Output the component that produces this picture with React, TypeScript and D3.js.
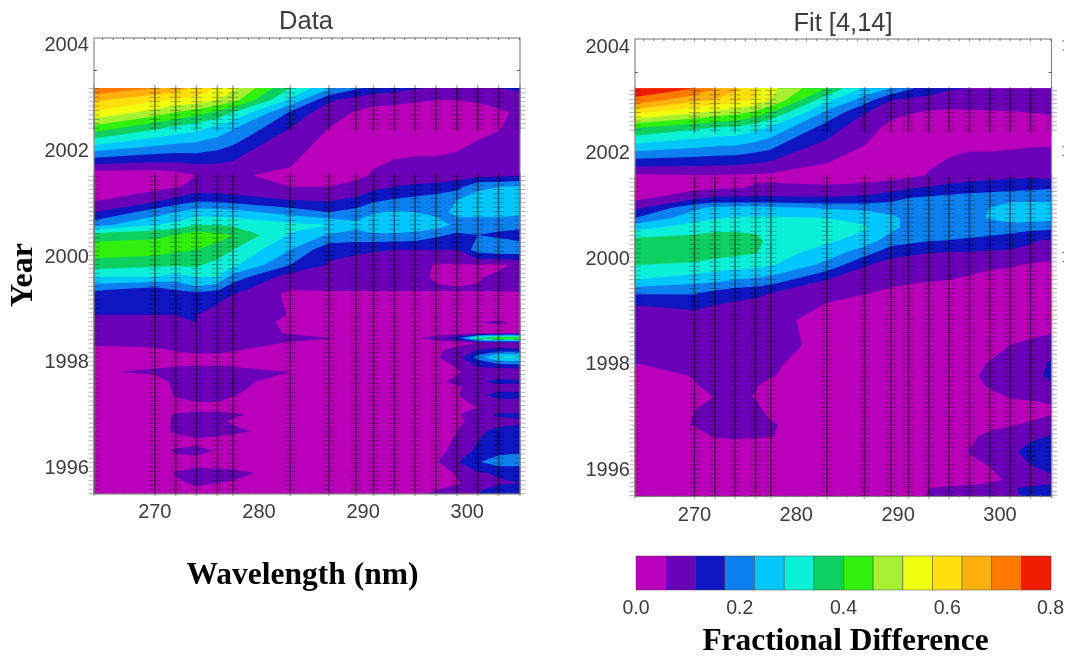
import * as d3 from "d3"

// wavelengths (nm) of the retrieved channels, same in both panels
const wavelengths = [264.16, 270, 272, 274, 276, 277.5, 283, 286.7, 289.3, 291, 293, 295, 297, 299, 301, 303, 305.06]

// colour bar: 14 levels between 0 and 0.8
const barColors = ["#bb00bb", "#6a00b8", "#0a14c0", "#0a80f0", "#05c8ff", "#10f0d8", "#0fd060", "#30f010", "#a8f030", "#f0ff10", "#ffe010", "#ffb010", "#ff7a00", "#f01a00"]
const barTicks = [0, 0.2, 0.4, 0.6, 0.8]
const yearTicks = [1996, 1998, 2000, 2002, 2004]
const nmTicks = [270, 280, 290, 300]
// what is left of the neighbouring panel's year labels at the edge of the picture
const croppedYears = [2000, 2002, 2004]

// grid values are in units of one colour level (0.8 / 14 fractional difference)
const dataYears = [2003.17, 2002.94, 2002.71, 2002.41, 2001.52, 2001.30, 2001.05, 2000.82, 2000.58, 2000.39, 2000.11, 1999.82, 1999.60, 1999.35, 1999.27, 1998.88, 1998.74, 1998.54, 1998.44, 1998.35, 1998.22, 1998.08, 1997.93, 1997.80, 1997.61, 1997.52, 1997.36, 1997.21, 1997.14, 1996.99, 1996.87, 1996.68, 1996.48, 1996.31, 1996.10, 1995.89, 1995.70, 1995.57, 1995.49]
const dataLevels = [
  [12.9, 12, 11.5, 10.8, 10, 9.3, 6, 4.2, 3.2, 2.8, 2.4, 2.1, 1.9, 1.8, 1.8, 2, 2.2],
  [11.2, 10.2, 9.9, 9.6, 9, 8.4, 4.8, 2.2, 1.5, 1.2, 1.2, 1.1, 1, 1, 1.1, 1.2, 1.5],
  [9.9, 8.6, 8, 7.5, 6.8, 6, 2.9, 1.3, 0.95, 0.8, 0.7, 0.6, 0.6, 0.6, 0.7, 0.9, 1.1],
  [7.6, 6.2, 5.7, 5.3, 4.7, 4.1, 2, 1, 0.5, 0.4, 0.4, 0.4, 0.4, 0.5, 0.8, 0.95, 1.3],
  [0.3, 0.4, 0.6, 1, 1.1, 1.1, 0.8, 0.7, 0.75, 1.1, 1.3, 1.4, 1.4, 1.5, 1.6, 1.7, 1.9],
  [0.4, 0.7, 0.9, 1.3, 1.4, 1.3, 1, 1, 1.3, 1.7, 2, 2.2, 2.3, 2.6, 3.9, 4, 4.1],
  [0.9, 1.7, 2.3, 2.8, 2.7, 2.5, 2, 1.9, 2.2, 2.8, 3.1, 3.3, 3.6, 4, 4.2, 4.3, 4.4],
  [2, 3.5, 4, 4.5, 4.5, 4.4, 3.6, 3, 3.4, 3.9, 4.1, 4, 3.7, 4.2, 4.3, 4.4, 4.2],
  [3.6, 5, 5.3, 6, 6, 5.8, 5.3, 5, 4.3, 4.8, 4.9, 4.6, 4.6, 3.7, 3.5, 3.4, 3.4],
  [6.5, 6.8, 7, 7.6, 7.2, 7, 4.9, 3.9, 3.7, 3.8, 3.8, 3.7, 3.2, 2.8, 3, 2.8, 2.5],
  [7.6, 7.5, 7.2, 7, 6.8, 6, 4, 2.3, 2.2, 2.1, 2, 2, 2, 2, 3.5, 3.8, 3.7],
  [6.5, 6.2, 6.1, 6.2, 5.5, 5.2, 3, 1.9, 1.6, 1.5, 1.5, 1.5, 0.9, 0.9, 0.9, 0.8, 1.2],
  [5, 5, 4.6, 5, 5, 3.6, 1.5, 1.2, 1.3, 1.3, 1.2, 1.2, 0.9, 0.7, 0.9, 1.2, 1.2],
  [3.1, 2.5, 3, 3.6, 3.1, 2.3, 1, 1.1, 1.1, 1.1, 1.1, 1.1, 1.1, 1.1, 1.1, 1.1, 1.2],
  [2.8, 2.3, 2.4, 2.5, 2.2, 2, 0.8, 0.7, 0.7, 0.7, 0.7, 0.7, 0.7, 0.7, 0.7, 0.7, 0.8],
  [2, 2, 2, 2, 1.8, 1.7, 0.95, 0.3, 0.3, 0.3, 0.3, 0.3, 0.3, 0.3, 0.4, 0.6, 0.5],
  [1.6, 1.8, 1.9, 2, 1.6, 1.3, 0.9, 0.3, 0.3, 0.3, 0.3, 0.3, 0.3, 0.3, 1, 1.1, 0.9],
  [1.4, 1.5, 1.6, 1.6, 1.5, 1.3, 0.95, 0.4, 0.3, 0.3, 0.3, 0.3, 0.3, 0.4, 0.6, 0.6, 0.6],
  [1.3, 1.6, 1.7, 1.9, 1.9, 1.6, 1.2, 1.05, 0.9, 0.8, 0.7, 0.8, 1.6, 2.5, 6.5, 7.8, 8],
  [1.2, 1.4, 1.4, 1.4, 1.4, 1.3, 0.95, 0.4, 0.3, 0.3, 0.3, 0.3, 0.4, 0.7, 1, 1.1, 1],
  [0.7, 0.8, 1.1, 1.2, 1.2, 1.1, 0.5, 0.3, 0.3, 0.3, 0.3, 0.3, 0.8, 1.3, 2, 2.3, 2.2],
  [0.2, 0.5, 0.7, 0.8, 0.8, 0.7, 0.3, 0.3, 0.3, 0.3, 0.3, 0.3, 0.9, 1.5, 3.4, 5.3, 5.2],
  [0.3, 0.8, 0.9, 0.95, 0.95, 0.9, 0.5, 0.3, 0.3, 0.3, 0.3, 0.3, 0.7, 1.1, 2.2, 2.5, 2.8],
  [0.85, 1.2, 1.3, 1.4, 1.4, 1.3, 1, 0.3, 0.3, 0.3, 0.3, 0.3, 0.4, 0.9, 1.4, 1.3, 1.2],
  [0.3, 0.5, 1.25, 1.4, 1.4, 1.3, 0.5, 0.3, 0.3, 0.3, 0.3, 0.3, 0.8, 1.2, 1.8, 2.3, 2.2],
  [0.3, 0.4, 1.2, 1.4, 1.4, 1.3, 0.3, 0.3, 0.3, 0.3, 0.3, 0.3, 0.5, 0.9, 1.3, 1.6, 1.4],
  [0.3, 0.3, 1.1, 1.3, 1.3, 1.05, 0.3, 0.3, 0.3, 0.3, 0.3, 0.3, 0.5, 0.9, 1.8, 2.3, 2.4],
  [0.3, 0.3, 0.7, 0.95, 0.95, 0.7, 0.3, 0.3, 0.3, 0.3, 0.3, 0.3, 0.4, 0.7, 1.2, 1.6, 1.5],
  [0.3, 0.3, 0.4, 0.5, 0.5, 0.4, 0.3, 0.3, 0.3, 0.3, 0.3, 0.3, 0.4, 0.6, 1, 1.3, 1.2],
  [0.3, 0.4, 1.15, 1.3, 1.3, 1.2, 0.3, 0.3, 0.3, 0.3, 0.3, 0.3, 0.4, 0.9, 1.5, 2.2, 2.3],
  [0.3, 0.4, 1.2, 1.5, 1.3, 0.8, 0.3, 0.3, 0.3, 0.3, 0.3, 0.3, 0.4, 0.7, 1.5, 1.6, 1.8],
  [0.3, 0.4, 1.2, 1.6, 1.4, 1.3, 0.3, 0.3, 0.3, 0.3, 0.3, 0.3, 0.4, 1, 1.8, 2.3, 2.4],
  [0.3, 0.3, 0.4, 0.7, 0.5, 0.4, 0.3, 0.3, 0.3, 0.3, 0.3, 0.3, 0.5, 1.2, 2, 2.4, 2.6],
  [0.3, 0.4, 1.2, 1.4, 0.9, 0.9, 0.3, 0.3, 0.3, 0.3, 0.3, 0.3, 0.6, 1.4, 2.2, 2.6, 2.8],
  [0.3, 0.3, 0.4, 0.5, 0.4, 0.4, 0.3, 0.3, 0.3, 0.3, 0.3, 0.3, 0.9, 1.9, 2.9, 3.6, 3.6],
  [0.3, 0.4, 1.1, 1.5, 1.4, 1.3, 0.5, 0.3, 0.3, 0.3, 0.3, 0.3, 0.5, 1.1, 1.9, 2.1, 2.1],
  [0.3, 0.3, 0.8, 1.2, 1, 0.9, 0.3, 0.3, 0.3, 0.3, 0.3, 0.3, 0.4, 0.9, 1.5, 1.9, 2],
  [0.3, 0.3, 0.5, 0.7, 0.6, 0.5, 0.3, 0.3, 0.3, 0.3, 0.3, 0.3, 1, 1.3, 1.9, 2.3, 2.4],
  [0.3, 0.3, 0.4, 0.5, 0.4, 0.4, 0.3, 0.3, 0.3, 0.3, 0.3, 0.9, 1.1, 1.5, 2, 2.4, 2.4],
]

const fitYears = [2003.2, 2002.98, 2002.75, 2002.45, 2001.56, 2001.32, 2001.09, 2000.94, 2000.75, 2000.56, 2000.33, 2000.11, 1999.86, 1999.58, 1999.33, 1999.1, 1998.82, 1998.35, 1998.01, 1997.76, 1997.57, 1997.36, 1997.12, 1996.84, 1996.61, 1996.51, 1996.33, 1996.04, 1995.8, 1995.64, 1995.47]
const fitLevels = [
  [13.9, 13, 12, 11.2, 10.2, 9.3, 7, 4.8, 4, 3.2, 2.5, 2.1, 2, 1.9, 1.8, 1.8, 1.9],
  [12.7, 11.3, 10.9, 10.5, 9.9, 9, 5.3, 3.5, 2, 1.8, 1.7, 1.5, 1.4, 1.3, 1.3, 1.4, 1.4],
  [10.4, 9.2, 8.8, 8.4, 7.8, 7, 3.8, 2.1, 1.2, 1.1, 0.9, 0.85, 0.9, 0.95, 0.98, 1, 1.1],
  [7, 6.2, 5.9, 5.8, 5.3, 4.8, 2.5, 1.3, 0.8, 0.5, 0.5, 0.5, 0.5, 0.4, 0.4, 0.5, 0.6],
  [0.9, 1, 1, 0.95, 0.9, 0.85, 0.5, 0.5, 0.6, 0.7, 1.05, 1.3, 1.5, 1.6, 1.7, 1.7, 1.6],
  [0.4, 0.7, 0.85, 0.95, 1.05, 1.1, 1.15, 1.3, 1.6, 1.9, 2.1, 2.3, 2.5, 2.6, 2.7, 2.8, 2.9],
  [0.9, 2.1, 2.4, 2.4, 2.4, 2.4, 2.3, 2.4, 2.8, 3.2, 3.4, 3.5, 3.6, 3.7, 3.8, 3.8, 3.8],
  [1.7, 3.8, 4.2, 4.3, 4.3, 4.2, 3.9, 3.7, 3.6, 3.6, 3.6, 3.6, 3.7, 4, 4.5, 4.6, 4.5],
  [3, 4.6, 4.9, 5.1, 5.1, 5.1, 5, 4.8, 4.2, 3.8, 3.6, 3.6, 3.7, 4.1, 4.5, 4.5, 4.3],
  [4.7, 5.5, 5.7, 5.7, 5.6, 5.5, 5.3, 5.1, 4.3, 3.7, 3.5, 3.4, 3.4, 3.4, 3.4, 3.3, 3.2],
  [6.3, 6.4, 6.6, 6.6, 6.4, 5.6, 5.2, 4.6, 3.5, 3.3, 3.1, 3, 2.9, 2.8, 2.5, 2.1, 1.9],
  [6.4, 6.4, 6.4, 6.3, 6.1, 5.5, 4.6, 3.5, 2.5, 2.3, 2.1, 2, 2, 1.9, 1.9, 1.8, 1.6],
  [6, 5.9, 5.6, 5.4, 5.3, 5.1, 3.7, 2.1, 1.5, 1.3, 1.2, 1.1, 1.1, 1.1, 1.1, 0.9, 0.7],
  [5, 4.4, 4.3, 4, 3.8, 3.6, 2, 1.4, 1.2, 1.1, 1.05, 1, 0.95, 0.8, 0.6, 0.4, 0.4],
  [3.1, 3.1, 2.7, 2.4, 2.2, 2, 1.2, 1.05, 0.85, 0.8, 0.7, 0.6, 0.5, 0.3, 0.3, 0.3, 0.3],
  [2, 2.2, 2, 1.8, 1.7, 1.6, 0.95, 0.6, 0.4, 0.3, 0.3, 0.3, 0.3, 0.3, 0.3, 0.3, 0.3],
  [1.5, 1.6, 1.6, 1.6, 1.5, 1.5, 0.4, 0.3, 0.3, 0.3, 0.3, 0.3, 0.3, 0.3, 0.3, 0.4, 0.5],
  [1.2, 1.5, 1.5, 1.5, 1.5, 1.5, 0.6, 0.3, 0.3, 0.3, 0.3, 0.3, 0.3, 0.6, 1, 1.2, 1.4],
  [1, 1.3, 1.4, 1.4, 1.4, 1.2, 0.4, 0.3, 0.3, 0.3, 0.3, 0.3, 0.7, 1.05, 1.4, 1.6, 2.1],
  [0.5, 1.05, 1.2, 1.3, 1.2, 1.05, 0.4, 0.3, 0.3, 0.3, 0.3, 0.3, 0.85, 1.2, 1.5, 1.7, 2.2],
  [0.3, 0.95, 1.15, 1.2, 1.05, 0.7, 0.3, 0.3, 0.3, 0.3, 0.3, 0.3, 0.6, 1.1, 1.3, 1.5, 1.8],
  [0.3, 0.7, 1.02, 1.2, 0.95, 0.5, 0.3, 0.3, 0.3, 0.3, 0.3, 0.3, 0.4, 0.7, 1.05, 1.1, 1.2],
  [0.3, 1, 1.2, 1.3, 1.2, 0.75, 0.3, 0.3, 0.3, 0.3, 0.3, 0.3, 0.3, 0.3, 0.5, 0.7, 0.85],
  [0.3, 1.05, 1.3, 1.4, 1.4, 1.1, 0.3, 0.3, 0.3, 0.3, 0.3, 0.3, 0.4, 0.7, 0.95, 1.1, 1.3],
  [0.3, 0.7, 1.05, 1.2, 1.1, 1.03, 0.3, 0.3, 0.3, 0.3, 0.3, 0.3, 0.8, 1.3, 1.3, 1.6, 2.2],
  [0.3, 0.5, 0.6, 0.7, 0.6, 0.5, 0.3, 0.3, 0.3, 0.3, 0.3, 0.3, 0.9, 1.3, 1.5, 2, 2.6],
  [0.3, 0.3, 0.3, 0.3, 0.3, 0.3, 0.3, 0.3, 0.3, 0.3, 0.3, 0.3, 1.05, 1.4, 1.7, 2.5, 3],
  [0.3, 0.3, 0.3, 0.3, 0.3, 0.3, 0.3, 0.3, 0.3, 0.3, 0.3, 0.3, 0.7, 1, 1.4, 1.9, 2.4],
  [0.3, 0.3, 0.3, 0.3, 0.3, 0.3, 0.3, 0.3, 0.3, 0.3, 0.3, 0.4, 0.5, 0.7, 1.2, 1.4, 1.6],
  [0.3, 0.3, 0.3, 0.3, 0.3, 0.3, 0.3, 0.3, 0.3, 0.6, 1, 1.2, 1.3, 1.5, 1.9, 2.2, 2.4],
  [0.3, 0.3, 0.3, 0.3, 0.3, 0.3, 0.3, 0.3, 0.3, 0.4, 1.1, 1.3, 1.4, 1.5, 1.8, 2.2, 2.4],
]

// monthly observation times, with the gap in the record
const obsYears = [...d3.range(1995.5, 2001.56, 1 / 12), ...d3.range(2002.41, 2003.18, 1 / 12)]
const serif = "'Liberation Serif', serif"
const sans = "'Liberation Sans', sans-serif"
const grey = "#3c3c3c"
const levelStep = 0.8 / 14

const Panel = ({ id, title, titleY, titleX, years, levels, left, right, top, bottom, y2004 }: any) => {
  const yPerYear = 52.9
  const x = d3.scaleLinear().domain([wavelengths[0], wavelengths[wavelengths.length - 1]]).range([left, right])
  const y = d3.scaleLinear().domain([2004, 1996]).range([y2004, y2004 + yPerYear * 8])

  // contour cells -> wavelength / year, the grid is not regular in either direction
  const colNm = d3.scaleLinear().domain(d3.range(wavelengths.length)).range(wavelengths).clamp(true)
  const rowYear = d3.scaleLinear().domain(d3.range(years.length)).range(years).clamp(true)
  const path = d3.geoPath(
    d3.geoTransform({
      point(px: number, py: number) {
        this.stream.point(x(colNm(px - 0.5)), y(rowYear(py - 0.5)))
      },
    })
  )
  const flat = levels.flat().map((v: number) => v * levelStep)
  const contours = d3.contours().size([wavelengths.length, years.length])

  return (
    <g>
      <clipPath id={id}>
        <rect x={left} y={top} width={right - left} height={bottom - top} />
      </clipPath>
      <g filter="url(#soft)">
        <g clipPath={`url(#${id})`}>
          {barColors.map((c, i) => (
            <path key={c} d={path(contours.contour(flat, i * levelStep)) as string} fill={c} />
          ))}
        </g>
        {/* one + per wavelength and observation */}
        {wavelengths.map((w) =>
          obsYears.map((yr) => (
            <g key={`${w}-${yr}`} stroke="#000">
              <line x1={x(w) - 5.5} x2={x(w) + 5.5} y1={y(yr)} y2={y(yr)} strokeOpacity={0.3} strokeWidth={1} />
              <line x1={x(w)} x2={x(w)} y1={y(yr) - 3.5} y2={Math.min(y(yr) + 3.5, bottom + 2)} strokeOpacity={0.3} strokeWidth={1.6} />
            </g>
          ))
        )}
        <rect x={left} y={top} width={right - left} height={bottom - top} fill="none" stroke="#8a8a8a" strokeWidth={1.2} />
        {d3.range(265, 306, 1).map((n) => (
          <g key={n} stroke="#555" strokeWidth={0.8}>
            <line x1={x(n)} x2={x(n)} y1={top} y2={top + 2} />
            <line x1={x(n)} x2={x(n)} y1={bottom - 2} y2={bottom} />
          </g>
        ))}
        <line x1={left} x2={left + 3} y1={y(2003.5)} y2={y(2003.5)} stroke="#555" />
        <line x1={right - 3} x2={right} y1={y(2003.5)} y2={y(2003.5)} stroke="#555" />
      </g>
      <g filter="url(#softText)" fontFamily={sans} fill={grey}>
        <text x={titleX} y={titleY} textAnchor="middle" fontSize={25.5}>{title}</text>
        {yearTicks.map((t) => (
          <text key={t} x={left - 5} y={y(t) + 7} textAnchor="end" fontSize={20}>{t}</text>
        ))}
        {nmTicks.map((t) => (
          <text key={t} x={x(t)} y={bottom + 24} textAnchor="middle" fontSize={20}>{t}</text>
        ))}
      </g>
    </g>
  )
}

export default function App() {
  const bar = d3.scaleLinear().domain([0, 0.8]).range([636, 1051])
  const edges = d3.range(15).map((i) => i * levelStep)
  const nextPanelY = d3.scaleLinear().domain([2004, 1996]).range([46, 469])
  return (
    <svg width={1068} height={657} style={{ position: "absolute", left: 0, top: 0, background: "#fff" }}>
      <defs>
        <filter id="soft" x="-5%" y="-5%" width="110%" height="110%">
          <feGaussianBlur stdDeviation={0.7} />
        </filter>
        <filter id="softText" x="-5%" y="-5%" width="110%" height="110%">
          <feGaussianBlur stdDeviation={0.35} />
        </filter>
      </defs>
      <Panel id="dataClip" title="Data" titleX={306} titleY={29} years={dataYears} levels={dataLevels}
        left={94} right={520} top={38} bottom={494} y2004={44} />
      <Panel id="fitClip" title="Fit [4,14]" titleX={843} titleY={31} years={fitYears} levels={fitLevels}
        left={635} right={1051.5} top={39} bottom={496.5} y2004={46} />

      <g filter="url(#soft)">
        {barColors.map((c, i) => (
          <rect key={c} x={bar(edges[i])} y={556} width={bar(edges[i + 1]) - bar(edges[i])} height={34} fill={c} stroke="#3a3a3a" strokeOpacity={0.55} strokeWidth={0.8} />
        ))}
        {croppedYears.map((t) => (
          <g key={t} stroke="#555" strokeWidth={1.2}>
            <line x1={1062.5} x2={1064} y1={nextPanelY(t) - 5} y2={nextPanelY(t) - 5} />
            <line x1={1062.5} x2={1064} y1={nextPanelY(t) + 4} y2={nextPanelY(t) + 4} />
          </g>
        ))}
      </g>
      <g filter="url(#softText)" fontFamily={sans} fill={grey}>
        {barTicks.map((t) => (
          <text key={t} x={t === 0.8 ? 1050.5 : bar(t)} y={614} textAnchor="middle" fontSize={19.5}>{t.toFixed(1)}</text>
        ))}
      </g>
      <g filter="url(#softText)" fontFamily={serif} fontWeight="bold" fill="#000">
        <text transform="translate(32,275) rotate(-90)" textAnchor="middle" fontSize={32}>Year</text>
        <text x={302.5} y={584} textAnchor="middle" fontSize={31.5}>Wavelength (nm)</text>
        <text x={845.5} y={650} textAnchor="middle" fontSize={31.4}>Fractional Difference</text>
      </g>
    </svg>
  )
}
